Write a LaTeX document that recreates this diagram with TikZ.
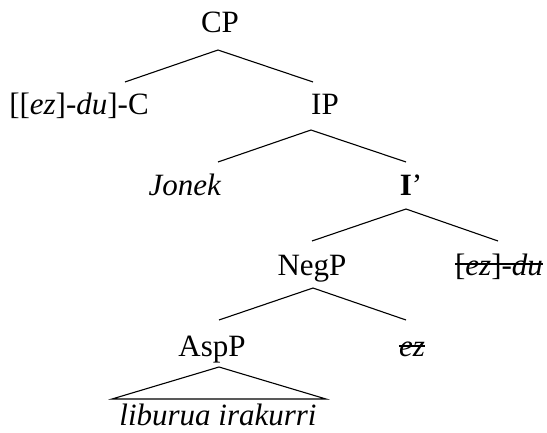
\documentclass[tikz,border=0pt]{standalone}
\usepackage{fontspec}
\setmainfont{Liberation Serif}
\begin{document}
\begin{tikzpicture}[x=1pt,y=-1pt,
  lab/.style={anchor=base,inner sep=0pt,font=\fontsize{31}{36}\selectfont},
  branch/.style={line width=1.1pt},
  strike/.style={line width=1.1pt}]
\useasboundingbox (0,0) rectangle (547,433);
% labels
\node[lab] (cp) at (220,33) {CP};
\node[lab] (c) at (79,115) {[[\textit{ez}]-\textit{du}]-C};
\node[lab] (ip) at (325,115) {IP};
\node[lab] (jon) at (185,196) {\textit{Jonek}};
\node[lab] (ibar) at (411,196) {\textbf{I}’};
\node[lab] (neg) at (312,276) {NegP};
\node[lab] (ezdu) at (499,276) {[\textit{ez}]-\textit{du}};
\node[lab] (asp) at (212,356) {AspP};
\node[lab] (ez) at (412,356) {\textit{ez}};
\node[lab] (lib) at (218,425) {\textit{liburua irakurri}};
% branch points
\coordinate (a1) at (218,50);  \coordinate (l1) at (125,82);  \coordinate (r1) at (313,82);
\coordinate (a2) at (311,130); \coordinate (l2) at (218,162); \coordinate (r2) at (406,162);
\coordinate (a3) at (406,209); \coordinate (l3) at (312,241); \coordinate (r3) at (498,241);
\coordinate (a4) at (313,288); \coordinate (l4) at (219,320); \coordinate (r4) at (406,320);
\coordinate (a5) at (219,367); \coordinate (l5) at (112,399); \coordinate (r5) at (326,399);
\draw[branch] (l1) -- (a1) -- (r1);
\draw[branch] (l2) -- (a2) -- (r2);
\draw[branch] (l3) -- (a3) -- (r3);
\draw[branch] (l4) -- (a4) -- (r4);
\draw[branch] (l5) -- (a5) -- (r5) -- cycle;
% strikeouts
\draw[strike] ([yshift=12pt]ezdu.base west) -- ([yshift=12pt]ezdu.base east);
\draw[strike] ([yshift=10pt]ez.base west) -- ([yshift=10pt]ez.base east);
\end{tikzpicture}
\end{document}
